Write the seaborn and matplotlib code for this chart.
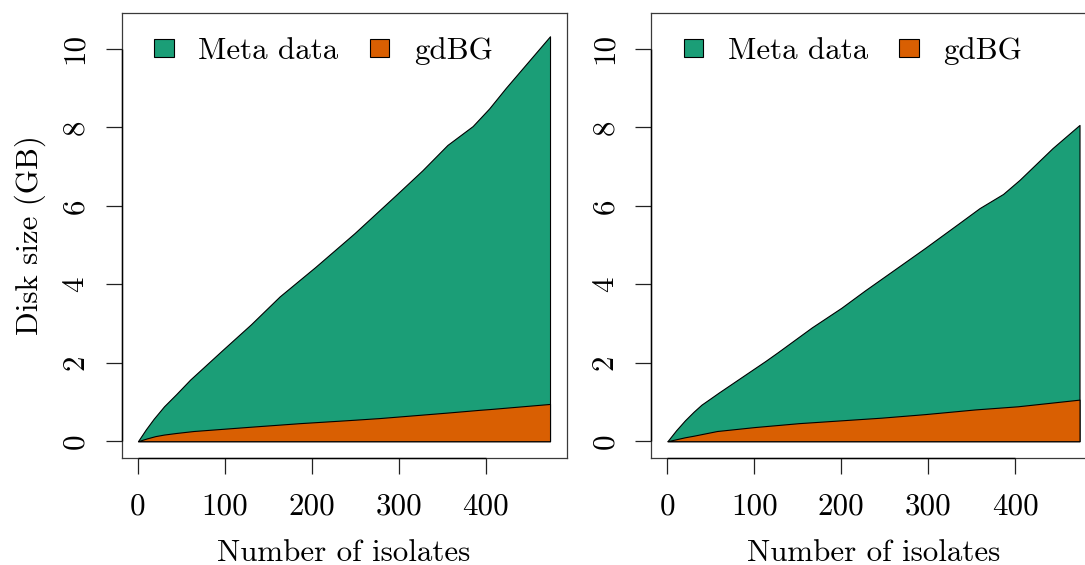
import matplotlib
matplotlib.use("Agg")
import matplotlib.pyplot as plt
from matplotlib.patches import Patch
import seaborn as sns

# ---------------- data ----------------
left_total_x = [0, 9, 18, 30, 44, 60, 97, 130, 163, 204, 249, 298, 327, 356, 385, 404, 423, 474]
left_total_y = [0, 0.30, 0.57, 0.89, 1.20, 1.57, 2.32, 2.98, 3.69, 4.44, 5.30, 6.30, 6.90, 7.55, 8.03, 8.48, 9.00, 10.32]
left_gdbg_x = [0, 10, 20, 30, 44, 64, 130, 186, 244, 278, 356, 393, 405, 474]
left_gdbg_y = [0, 0.07, 0.13, 0.17, 0.21, 0.26, 0.37, 0.46, 0.54, 0.59, 0.73, 0.80, 0.82, 0.95]

right_total_x = [0, 10, 20, 30, 39, 50, 59, 93, 113, 127, 166, 200, 227, 266, 296, 335, 359, 386, 405, 443, 474]
right_total_y = [0, 0.28, 0.53, 0.75, 0.93, 1.10, 1.24, 1.75, 2.05, 2.27, 2.90, 3.40, 3.84, 4.45, 4.92, 5.55, 5.94, 6.30, 6.66, 7.47, 8.06]
right_gdbg_x = [0, 10, 20, 30, 39, 57, 100, 151, 246, 296, 354, 403, 474]
right_gdbg_y = [0, 0.05, 0.10, 0.14, 0.18, 0.26, 0.36, 0.46, 0.60, 0.69, 0.81, 0.89, 1.06]

series_labels = ["Meta data", "gdBG"]
x_ticks = [0, 100, 200, 300, 400]
y_ticks = [0, 2, 4, 6, 8, 10]
x_label = "Number of isolates"
y_label = "Disk size (GB)"
y_top = 10.5

# ---------------- style ----------------
sns.set_theme(style="white")
plt.rcParams["font.family"] = ["cmr10", "DejaVu Serif"]
plt.rcParams["mathtext.fontset"] = "cm"
plt.rcParams["axes.formatter.use_mathtext"] = True
plt.rcParams["axes.unicode_minus"] = False
for key in ["text.color", "axes.labelcolor", "xtick.color", "ytick.color"]:
    plt.rcParams[key] = "black"

pal = sns.color_palette("Dark2")
c_meta, c_gdbg = pal[0], pal[1]
FS = 22.3
edge_c = "#3a3a3a"

fig = plt.figure(figsize=(10.85, 5.65), dpi=100)
W, H = 1085.0, 565.0
ax_w = 445.0 / W
ax_h = 445.0 / H
bottom = 1 - 457.7 / H
ax1 = fig.add_axes([121.5 / W, bottom, ax_w, ax_h])
ax2 = fig.add_axes([651.0 / W, bottom, ax_w, ax_h])

panels = [
    (ax1, left_total_x, left_total_y, left_gdbg_x, left_gdbg_y, True),
    (ax2, right_total_x, right_total_y, right_gdbg_x, right_gdbg_y, False),
]

for ax, tx, ty, gx, gy, show_ylab in panels:
    ax.set_facecolor("white")
    ax.fill_between(tx, ty, 0, facecolor=c_meta, edgecolor="black", linewidth=0.8, zorder=2)
    ax.fill_between(gx, gy, 0, facecolor=c_gdbg, edgecolor="black", linewidth=0.8, zorder=3)

    xmax = max(max(tx), max(gx))
    pad_x = 0.04 * xmax
    ax.set_xlim(-pad_x, xmax + pad_x)
    ax.set_ylim(-0.04 * y_top, y_top * 1.04)

    ax.set_xticks(x_ticks)
    ax.set_yticks(y_ticks)
    ax.set_xticklabels([str(v) for v in x_ticks], fontsize=FS)
    ax.set_yticklabels([str(v) for v in y_ticks], fontsize=FS, rotation=90, va="center")
    ax.tick_params(axis="both", direction="out", length=11.2, width=0.9, color="#222222",
                   bottom=True, left=True, labelcolor="black")
    ax.tick_params(axis="x", pad=14)
    ax.tick_params(axis="y", pad=12)

    for sp in ax.spines.values():
        sp.set_visible(True)
        sp.set_color(edge_c)
        sp.set_linewidth(0.9)

    # R-style axis lines spanning first to last tick
    ax.plot([x_ticks[0], x_ticks[-1]], [ax.get_ylim()[0]] * 2, color="black", lw=1.0,
            clip_on=False, zorder=5, solid_capstyle="butt")
    ax.plot([ax.get_xlim()[0]] * 2, [y_ticks[0], y_ticks[-1]], color="black", lw=1.0,
            clip_on=False, zorder=5, solid_capstyle="butt")

    ax.set_xlabel(x_label, fontsize=FS, labelpad=13, color="black")
    if show_ylab:
        ax.set_ylabel(y_label, fontsize=FS, labelpad=11, color="black")

    handles = [Patch(facecolor=c_meta, edgecolor="black", linewidth=0.8),
               Patch(facecolor=c_gdbg, edgecolor="black", linewidth=0.8)]
    leg = ax.legend(handles, series_labels, ncol=2, loc="upper left",
                    bbox_to_anchor=(32.5 / 445.0, 1 - 24.5 / 445.0),
                    frameon=False, fontsize=FS, handlelength=0.63, handleheight=0.52,
                    handletextpad=0.8, columnspacing=1.0, borderpad=0, borderaxespad=0)
    for t in leg.get_texts():
        t.set_color("black")

fig.savefig("out.png", dpi=100)
